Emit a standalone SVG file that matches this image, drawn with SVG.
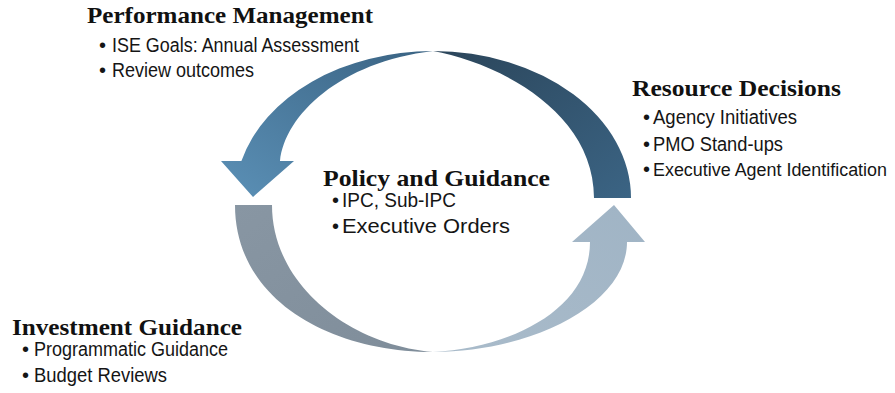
<svg xmlns="http://www.w3.org/2000/svg" width="895" height="393" viewBox="0 0 895 393">
  <style>
    .head { font-family: "Liberation Serif", "Times New Roman", serif; font-weight: bold; font-size: 23.5px; fill: #111; }
    .item { font-family: "Liberation Sans Narrow", "Liberation Sans", Arial, sans-serif; font-size: 19.5px; fill: #151515; }
    .dot { font-family: "Liberation Sans", Arial, sans-serif; font-size: 20px; fill: #151515; }
    .long { font-size: 18px; }
  </style>
  <defs>
    <linearGradient id="gTopRight" x1="0" y1="0" x2="1" y2="1">
      <stop offset="0" stop-color="#2b455a"/>
      <stop offset="1" stop-color="#3b6484"/>
    </linearGradient>
    <linearGradient id="gTopLeft" x1="1" y1="0" x2="0" y2="1">
      <stop offset="0" stop-color="#3a6383"/>
      <stop offset="1" stop-color="#5b90b6"/>
    </linearGradient>
    <linearGradient id="gBottomLeft" x1="0" y1="0" x2="1" y2="1">
      <stop offset="0" stop-color="#8896a3"/>
      <stop offset="1" stop-color="#7f8d9a"/>
    </linearGradient>
    <linearGradient id="gBottomRight" x1="0" y1="1" x2="1" y2="0">
      <stop offset="0" stop-color="#a9bbca"/>
      <stop offset="1" stop-color="#a0b4c5"/>
    </linearGradient>
  </defs>

  <rect width="895" height="393" fill="#ffffff"/>

  <!-- cycle arrows -->
  <g id="connectors">
    <!-- upper arc, right half (tail) -->
    <path id="arc-top-right" fill="url(#gTopRight)"
          d="M433,51 A198,147 0 0 1 631,198 L594,198 C594,110 495,62 433,51 Z"/>
    <!-- upper arc, left half with head pointing down -->
    <path id="arc-top-left" fill="url(#gTopLeft)"
          d="M433,51 A198,147 0 0 0 241.4,161 L221,161 L253,197 L294,161 L280,161 C285,115 340,62 433,51 Z"/>
    <!-- lower arc, left half (tail) -->
    <path id="arc-bottom-left" fill="url(#gBottomLeft)"
          d="M235,205 C235,300 330,352 433,352 C350,345 272,285 272,205 Z"/>
    <!-- lower arc, right half with head pointing up -->
    <path id="arc-bottom-right" fill="url(#gBottomRight)"
          d="M433,352 C530,352 627,305 627,242 L645,242 L614,205 L572,242 L590,242 C590,310 510,348 433,352 Z"/>
  </g>

  <g id="performance-management">
    <text class="head" x="87" y="23" textLength="286" lengthAdjust="spacingAndGlyphs">Performance Management</text>
    <text class="dot" x="99" y="52">•</text>
    <text class="item" x="112" y="52" textLength="247" lengthAdjust="spacingAndGlyphs">ISE Goals: Annual Assessment</text>
    <text class="dot" x="99" y="77">•</text>
    <text class="item" x="112" y="77" textLength="142" lengthAdjust="spacingAndGlyphs">Review outcomes</text>
  </g>

  <g id="resource-decisions">
    <text class="head" x="632" y="96" textLength="209" lengthAdjust="spacingAndGlyphs">Resource Decisions</text>
    <text class="dot" x="643" y="124">•</text>
    <text class="item" x="653" y="124" textLength="144" lengthAdjust="spacingAndGlyphs">Agency Initiatives</text>
    <text class="dot" x="643" y="151">•</text>
    <text class="item" x="653" y="151" textLength="130" lengthAdjust="spacingAndGlyphs">PMO Stand-ups</text>
    <text class="dot" x="643" y="176">•</text>
    <text class="item long" x="653" y="176" textLength="234" lengthAdjust="spacingAndGlyphs">Executive Agent Identification</text>
  </g>

  <g id="policy-and-guidance">
    <text class="head" x="323" y="186" textLength="227" lengthAdjust="spacingAndGlyphs">Policy and Guidance</text>
    <text class="dot" x="332" y="207">•</text>
    <text class="item" x="342" y="207" textLength="114" lengthAdjust="spacingAndGlyphs">IPC, Sub-IPC</text>
    <text class="dot" x="332" y="233">•</text>
    <text class="item" x="342" y="233" textLength="168" lengthAdjust="spacingAndGlyphs">Executive Orders</text>
  </g>

  <g id="investment-guidance">
    <text class="head" x="12" y="335" textLength="230" lengthAdjust="spacingAndGlyphs">Investment Guidance</text>
    <text class="dot" x="22" y="356">•</text>
    <text class="item" x="34" y="356" textLength="194" lengthAdjust="spacingAndGlyphs">Programmatic Guidance</text>
    <text class="dot" x="22" y="382">•</text>
    <text class="item" x="34" y="382" textLength="133" lengthAdjust="spacingAndGlyphs">Budget Reviews</text>
  </g>
</svg>
